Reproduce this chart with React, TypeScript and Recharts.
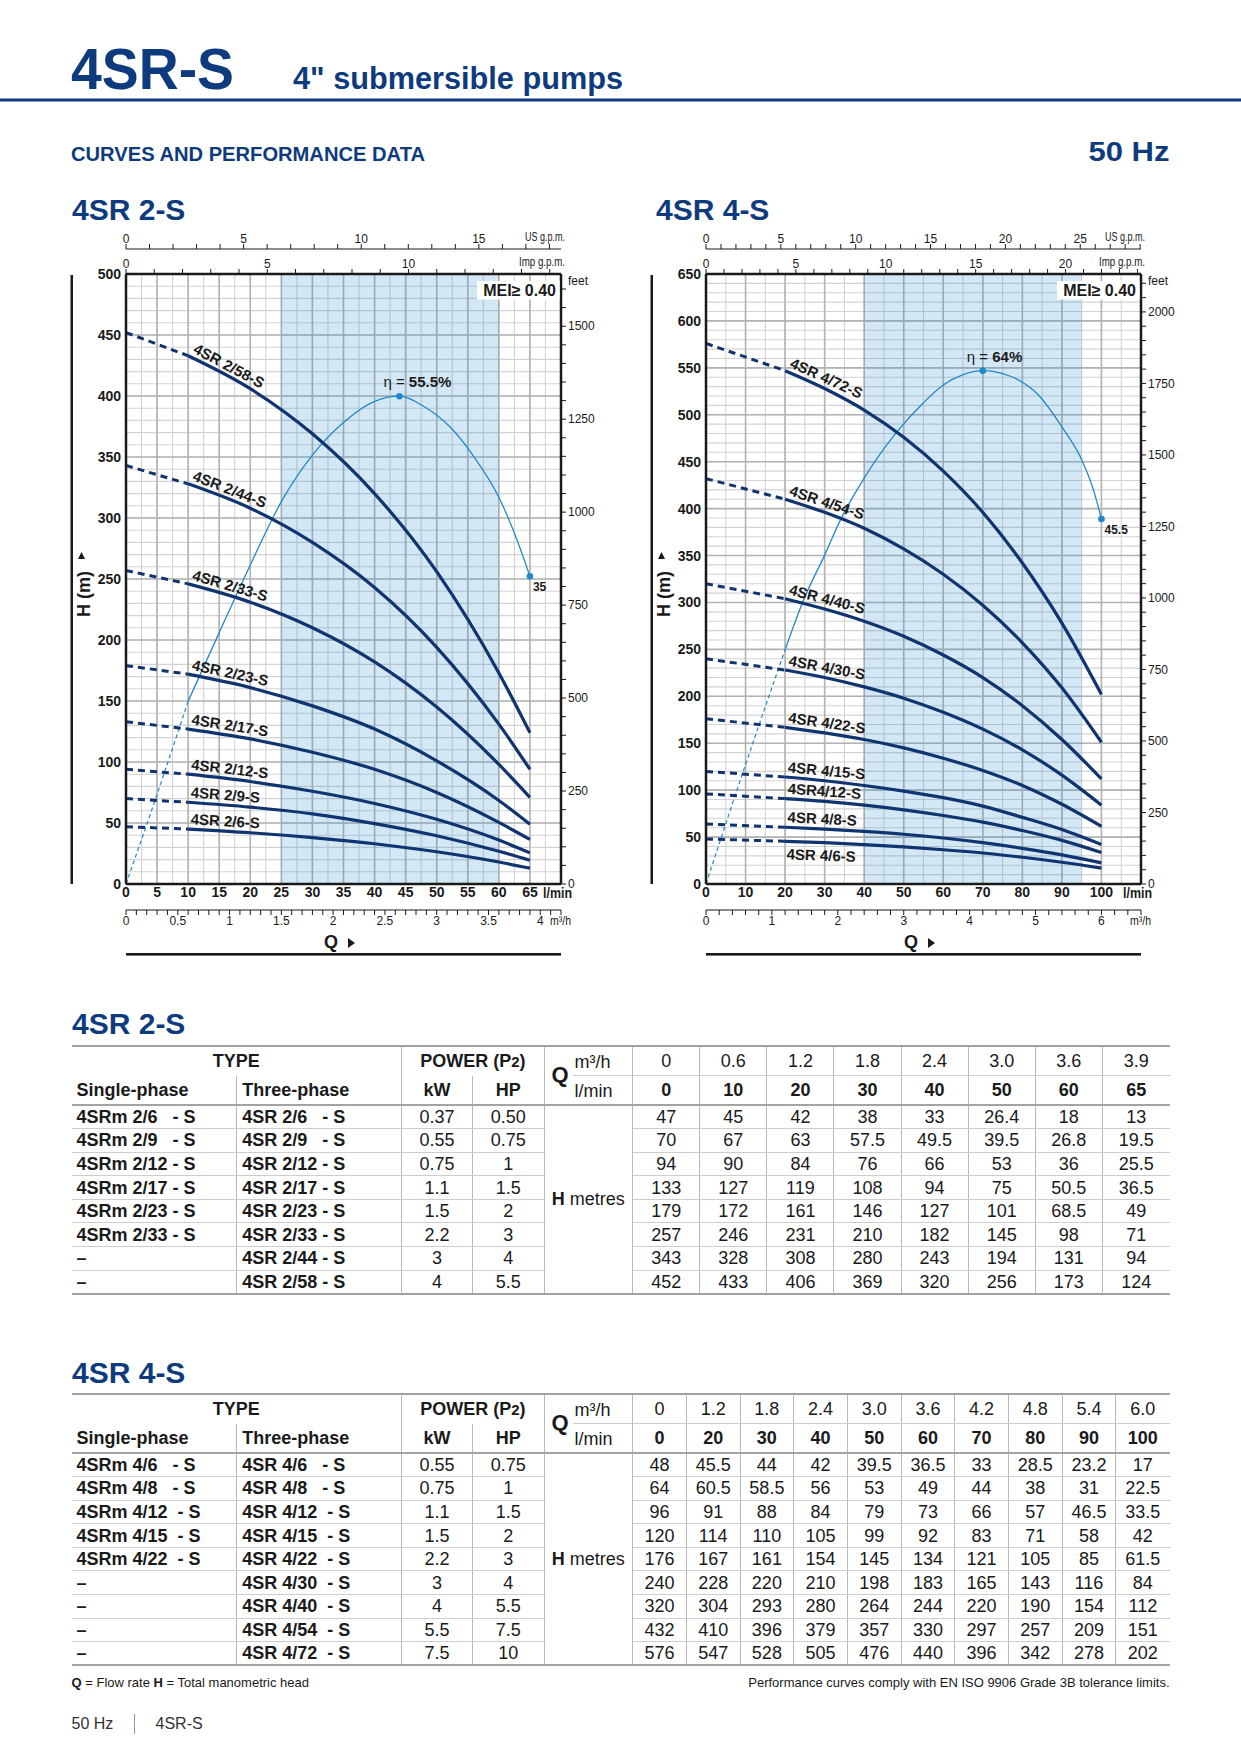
import React from 'react';
import {
  ComposedChart, Line, XAxis, YAxis, CartesianGrid, ReferenceArea, Label,
} from 'recharts';

const INK = '#1a1a1a';
const NAVY = '#0e3a7e';
const CURVE = '#0f3470';
const ETA = '#2189c9';
const FONT = '"Liberation Sans", Arial, Helvetica, sans-serif';

// ---- 4SR 2-S (values from the performance table)
const Q2 = [0, 10, 20, 30, 40, 50, 60, 65];
const Q2_M3H = ['0', '0.6', '1.2', '1.8', '2.4', '3.0', '3.6', '3.9'];
const CURVES2 = ['4SR 2/6-S', '4SR 2/9-S', '4SR 2/12-S', '4SR 2/17-S', '4SR 2/23-S', '4SR 2/33-S', '4SR 2/44-S', '4SR 2/58-S'];
const SINGLE2 = ['4SRm 2/6   - S', '4SRm 2/9   - S', '4SRm 2/12 - S', '4SRm 2/17 - S', '4SRm 2/23 - S', '4SRm 2/33 - S', '–', '–'];
const THREE2 = ['4SR 2/6   - S', '4SR 2/9   - S', '4SR 2/12 - S', '4SR 2/17 - S', '4SR 2/23 - S', '4SR 2/33 - S', '4SR 2/44 - S', '4SR 2/58 - S'];
const KW2 = ['0.37', '0.55', '0.75', '1.1', '1.5', '2.2', '3', '4'];
const HP2 = ['0.50', '0.75', '1', '1.5', '2', '3', '4', '5.5'];
const H2 = [
  [47, 45, 42, 38, 33, 26.4, 18, 13],
  [70, 67, 63, 57.5, 49.5, 39.5, 26.8, 19.5],
  [94, 90, 84, 76, 66, 53, 36, 25.5],
  [133, 127, 119, 108, 94, 75, 50.5, 36.5],
  [179, 172, 161, 146, 127, 101, 68.5, 49],
  [257, 246, 231, 210, 182, 145, 98, 71],
  [343, 328, 308, 280, 243, 194, 131, 94],
  [452, 433, 406, 369, 320, 256, 173, 124],
];
// efficiency curve (%)
const ETA2_Q = [0, 5, 10, 15, 20, 25, 30, 35, 40, 44, 48, 52, 56, 60, 63, 65];
const ETA2 = [0, 10.2, 20.8, 28.6, 36.3, 43.5, 48.8, 52.5, 54.9, 55.5, 54.3, 52.1, 48.6, 44, 39, 35];

// ---- 4SR 4-S
const Q4 = [0, 20, 30, 40, 50, 60, 70, 80, 90, 100];
const Q4_M3H = ['0', '1.2', '1.8', '2.4', '3.0', '3.6', '4.2', '4.8', '5.4', '6.0'];
const CURVES4 = ['4SR 4/6-S', '4SR 4/8-S', '4SR4/12-S', '4SR 4/15-S', '4SR 4/22-S', '4SR 4/30-S', '4SR 4/40-S', '4SR 4/54-S', '4SR 4/72-S'];
const SINGLE4 = ['4SRm 4/6   - S', '4SRm 4/8   - S', '4SRm 4/12  - S', '4SRm 4/15  - S', '4SRm 4/22  - S', '–', '–', '–', '–'];
const THREE4 = ['4SR 4/6   - S', '4SR 4/8   - S', '4SR 4/12  - S', '4SR 4/15  - S', '4SR 4/22  - S', '4SR 4/30  - S', '4SR 4/40  - S', '4SR 4/54  - S', '4SR 4/72  - S'];
const KW4 = ['0.55', '0.75', '1.1', '1.5', '2.2', '3', '4', '5.5', '7.5'];
const HP4 = ['0.75', '1', '1.5', '2', '3', '4', '5.5', '7.5', '10'];
const H4 = [
  [48, 45.5, 44, 42, 39.5, 36.5, 33, 28.5, 23.2, 17],
  [64, 60.5, 58.5, 56, 53, 49, 44, 38, 31, 22.5],
  [96, 91, 88, 84, 79, 73, 66, 57, 46.5, 33.5],
  [120, 114, 110, 105, 99, 92, 83, 71, 58, 42],
  [176, 167, 161, 154, 145, 134, 121, 105, 85, 61.5],
  [240, 228, 220, 210, 198, 183, 165, 143, 116, 84],
  [320, 304, 293, 280, 264, 244, 220, 190, 154, 112],
  [432, 410, 396, 379, 357, 330, 297, 257, 209, 151],
  [576, 547, 528, 505, 476, 440, 396, 342, 278, 202],
];
const ETA4_Q = [0, 10, 20, 25, 30, 34, 40, 48, 55, 60, 65, 70, 77, 84, 90, 95, 98, 100];
const ETA4 = [0, 14.9, 29.2, 35.8, 41, 45.4, 50.6, 56.2, 60, 62.2, 63.5, 64, 63.3, 61, 57, 52.9, 49.1, 45.5];

const CHART_A = {
  left: 60, q: Q2, heads: H2, names: CURVES2, below: [] as string[],
  qMax: 70, qGrid: 2.5, qLabel: 5, hMax: 500, m3Minor: 0.1, m3Label: 0.5,
  shade: [25, 60], etaQ: ETA2_Q, eta: ETA2, etaMax: 69.4,
};
const CHART_B = {
  left: 640, q: Q4, heads: H4, names: CURVES4, below: ['4SR 4/6-S'],
  qMax: 110, qGrid: 5, qLabel: 10, hMax: 650, m3Minor: 0.2, m3Label: 1,
  shade: [40, 95], etaQ: ETA4_Q, eta: ETA4, etaMax: 76.05,
};

const L_PER_USG = 3.785411784;
const L_PER_IMPG = 4.54609;
const M3H_PER_LMIN = 0.06;

const steps = (max: number, step: number) => {
  const out: number[] = [];
  for (let i = 0; i * step <= max + 1e-9; i++) out.push(Math.round(i * step * 1000) / 1000);
  return out;
};
const isMult = (v: number, s: number) => Math.abs(v / s - Math.round(v / s)) < 1e-6;
const scaleOf = (axis: any) => {
  const sc = axis && axis.scale;
  if (!sc) return null;
  return typeof sc === 'function' ? sc : (v: number) => sc.map(v);
};

// axis ids are named so that they stack in this order (closest to the plot first)
const XQ = 'x1_lmin';
const XM3 = 'x2_m3h';
const XIMP = 'x3_imp';
const XUS = 'x4_us';
const YH = 'y1_h';
const YETA = 'y2_eta';
const YFT = 'y3_ft';

function PumpChart({ cfg }: { cfg: typeof CHART_A }) {
  const { q, heads, names, below, qMax, qGrid, qLabel, hMax, m3Minor, m3Label, shade, etaQ, eta, etaMax } = cfg;
  const usMax = qMax / L_PER_USG;
  const impMax = qMax / L_PER_IMPG;
  const m3Max = qMax * M3H_PER_LMIN;
  const ftMax = hMax / 0.3048;
  const qEnd = q[q.length - 1];

  const vMinor = steps(qMax, qGrid);
  const vMajor = steps(qMax, qGrid * 2);
  const hMinor = steps(hMax, 10);
  const hMajor = steps(hMax, 50);

  const etaPts = etaQ.map((x, i) => ({ q: x, e: eta[i] }));
  const etaDash = etaPts.filter((p) => p.q <= q[1]);
  const etaSolid = etaPts.filter((p) => p.q >= q[1]);
  const peak = etaSolid.reduce((b, p, i) => (p.e > etaSolid[b].e ? i : b), 0);
  const lastEta = etaSolid.length - 1;

  const vGen = (vals: number[]) => ({ xAxis }: any) => {
    const f = scaleOf(xAxis);
    return f ? vals.map((v) => f(v)) : [];
  };
  const hGen = (vals: number[]) => ({ yAxis }: any) => {
    const f = scaleOf(yAxis);
    return f ? vals.map((v) => f(v)) : [];
  };

  const pumpLabel = (name: string) => (p: any) => {
    if (p.index !== 0) return <g key={`n${p.index}`} />;
    const pts = p.points;
    let ang = 0;
    if (pts && pts.length > 1) ang = (Math.atan2(pts[1].y - pts[0].y, pts[1].x - pts[0].x) * 180) / Math.PI;
    const under = below.includes(name);
    return (
      <g key="lbl" transform={`translate(${p.cx},${p.cy}) rotate(${ang})`}>
        <text x={2} y={under ? 18 : -5} fontSize={15} fontWeight={700} fill={INK} fontFamily={FONT}>{name}</text>
      </g>
    );
  };

  const etaDot = (p: any) => {
    const { cx, cy, index, payload } = p;
    if (index !== peak && index !== lastEta) return <g key={`e${index}`} />;
    if (index === peak) {
      return (
        <g key="peak">
          <circle cx={cx} cy={cy} r={3.3} fill={ETA} />
          <text x={cx - 16} y={cy - 9} fontSize={15} fill={INK} fontFamily={FONT}>
            η = <tspan fontWeight={700}>{payload.e}%</tspan>
          </text>
        </g>
      );
    }
    return (
      <g key="end">
        <circle cx={cx} cy={cy} r={3.3} fill={ETA} />
        <text x={cx + 3} y={cy + 15} fontSize={12} fontWeight={700} fill={INK} fontFamily={FONT}>{payload.e}</text>
      </g>
    );
  };

  const unitLabel = (text: string, dy: number, dx: number, bold = false, size = 12, len?: number) => (props: any) => {
    const vb = props.viewBox || {};
    return (
      <text x={vb.x + vb.width + dx} y={vb.y + dy} textAnchor="end" fontSize={size} fontWeight={bold ? 700 : 400}
        fill={INK} fontFamily={FONT} textLength={len} lengthAdjust={len ? 'spacingAndGlyphs' : undefined}>
        {text}
      </text>
    );
  };

  // the Q points in every unit, so that each unit axis has its own numbers
  const rows = q.map((x) => ({ q: x, m3: x * M3H_PER_LMIN, imp: x / L_PER_IMPG, us: x / L_PER_USG }));

  return (
    <div style={{ position: 'absolute', left: cfg.left, top: 225 }}>
      <ComposedChart width={545} height={710} data={rows} margin={{ top: 2, right: 4, bottom: 0, left: 26 }}>
        <CartesianGrid xAxisId={XQ} yAxisId={YH} stroke="#d3d3d3" strokeWidth={1.1}
          verticalCoordinatesGenerator={vGen(vMinor)} horizontalCoordinatesGenerator={hGen(hMinor)} />
        <CartesianGrid xAxisId={XQ} yAxisId={YH} stroke="#b3b3b3" strokeWidth={1.6}
          verticalCoordinatesGenerator={vGen(vMajor)} horizontalCoordinatesGenerator={hGen(hMajor)} />
        <ReferenceArea xAxisId={XQ} yAxisId={YH} x1={shade[0]} x2={shade[1]} y1={0} y2={hMax}
          fill="#2887cd" fillOpacity={0.2} stroke="none" />

        <XAxis xAxisId={XQ} dataKey="q" type="number" domain={[0, qMax]} allowDataOverflow
          ticks={steps(qEnd, qLabel)} interval={0} height={26} tickSize={0} tickMargin={3} tickLine={false}
          axisLine={{ stroke: INK, strokeWidth: 2.5 }} tick={{ fontSize: 14, fontWeight: 700, fill: INK }}>
          <Label content={unitLabel('l/min', 14, 11, true, 14, 29)} />
        </XAxis>
        <XAxis xAxisId={XM3} dataKey="m3" type="number" domain={[0, m3Max]} allowDataOverflow
          ticks={steps(m3Max, m3Minor)} interval={0} height={25} tickSize={5} tickMargin={1}
          tickFormatter={(v: number) => (isMult(v, m3Label) && v <= m3Max - 0.15 ? String(v) : '')}
          axisLine={{ stroke: INK, strokeWidth: 1.2 }} tickLine={{ stroke: INK }} tick={{ fontSize: 12, fill: INK }}>
          <Label content={unitLabel('m³/h', 15, 10, false, 12, 21)} />
        </XAxis>
        <XAxis xAxisId={XIMP} dataKey="imp" orientation="top" type="number" domain={[0, impMax]} allowDataOverflow
          ticks={steps(impMax, 1)} interval={0} height={25} tickSize={5} tickMargin={1}
          tickFormatter={(v: number) => (isMult(v, 5) && v <= impMax - 3 ? String(v) : '')}
          axisLine={{ stroke: INK, strokeWidth: 2.5 }} tickLine={{ stroke: INK }} tick={{ fontSize: 12, fill: INK }}>
          <Label content={unitLabel('Imp g.p.m.', 17, 4, false, 12, 46)} />
        </XAxis>
        <XAxis xAxisId={XUS} dataKey="us" orientation="top" type="number" domain={[0, usMax]} allowDataOverflow
          ticks={steps(usMax, 1)} interval={0} height={22} tickSize={5} tickMargin={1}
          tickFormatter={(v: number) => (isMult(v, 5) && v <= usMax - 3 ? String(v) : '')}
          axisLine={{ stroke: INK, strokeWidth: 1.2 }} tickLine={{ stroke: INK }} tick={{ fontSize: 12, fill: INK }}>
          <Label content={unitLabel('US g.p.m.', 14, 4, false, 12, 40)} />
        </XAxis>

        <YAxis yAxisId={YH} type="number" domain={[0, hMax]} allowDataOverflow ticks={steps(hMax, 50)} interval={0}
          width={40} tickSize={0} tickMargin={5} tickLine={false}
          axisLine={{ stroke: INK, strokeWidth: 2.5 }} tick={{ fontSize: 14, fontWeight: 700, fill: INK }} />
        <YAxis yAxisId={YETA} hide width={0} type="number" domain={[0, etaMax]} allowDataOverflow />
        <YAxis yAxisId={YFT} orientation="right" type="number" domain={[0, ftMax]} allowDataOverflow
          ticks={steps(ftMax, 50)} interval={0} width={40} tickSize={5} tickMargin={2}
          tickFormatter={(v: number) => (isMult(v, 250) ? String(v) : '')}
          axisLine={{ stroke: INK, strokeWidth: 2.5 }} tickLine={{ stroke: INK }} tick={{ fontSize: 12, fill: INK }}>
          <Label content={(props: any) => {
            const vb = props.viewBox || {};
            return <text x={vb.x + 7} y={vb.y + 11} fontSize={12} fill={INK} fontFamily={FONT}>feet</text>;
          }} />
        </YAxis>

        <Line data={etaDash} dataKey="e" xAxisId={XQ} yAxisId={YETA} type="monotone" stroke={ETA}
          strokeWidth={1.2} strokeDasharray="4 3" dot={false} activeDot={false} isAnimationActive={false} />
        <Line data={etaSolid} dataKey="e" xAxisId={XQ} yAxisId={YETA} type="monotone" stroke={ETA}
          strokeWidth={1.3} dot={etaDot} activeDot={false} isAnimationActive={false} />

        {heads.map((hs, k) => (
          <Line key={`d${k}`} data={q.slice(0, 2).map((x, i) => ({ q: x, h: hs[i] }))} dataKey="h"
            xAxisId={XQ} yAxisId={YH} type="linear" stroke={CURVE} strokeWidth={3} strokeDasharray="7 5"
            dot={false} activeDot={false} isAnimationActive={false} />
        ))}
        {heads.map((hs, k) => (
          <Line key={`s${k}`} data={q.slice(1).map((x, i) => ({ q: x, h: hs[i + 1] }))} dataKey="h"
            xAxisId={XQ} yAxisId={YH} type="monotone" stroke={CURVE} strokeWidth={3.2}
            dot={pumpLabel(names[k])} activeDot={false} isAnimationActive={false} />
        ))}
      </ComposedChart>
    </div>
  );
}

const THICK = '2.5px solid #a3a3a3';
const VLINE = '1.5px solid #b8b8b8';
const RLINE = '1.5px solid #cdcdcd';

function PerfTable({ top, qM3h, qLmin, single, three, kw, hp, heads }: any) {
  const nCol = qM3h.length;
  const dataW = 536.8 / nCol;
  const n = heads.length;
  const cell = (extra: any = {}) => ({
    padding: 0, fontSize: 18, lineHeight: '18px', whiteSpace: 'pre', overflow: 'hidden', ...extra,
  });
  const vr = (i: number) => (i < nCol - 1 ? VLINE : undefined);
  return (
    <table style={{
      position: 'absolute', left: 71.5, top, width: 1098, borderCollapse: 'collapse', tableLayout: 'fixed',
      fontFamily: FONT, color: INK, borderTop: THICK, borderBottom: THICK,
    }}>
      <colgroup>
        <col style={{ width: 165.3 }} />
        <col style={{ width: 164.9 }} />
        <col style={{ width: 70.8 }} />
        <col style={{ width: 71.5 }} />
        <col style={{ width: 88.7 }} />
        {qM3h.map((_: any, i: number) => <col key={i} style={{ width: dataW }} />)}
      </colgroup>
      <tbody>
        <tr style={{ height: 29 }}>
          <td colSpan={2} style={cell({ textAlign: 'center', fontWeight: 700, borderRight: VLINE })}>TYPE</td>
          <td colSpan={2} style={cell({ textAlign: 'center', fontWeight: 700, borderRight: VLINE })}>
            POWER (P<span style={{ fontSize: 15 }}>2</span>)
          </td>
          <td rowSpan={2} style={cell({ borderRight: VLINE, borderBottom: THICK })}>
            <div style={{ position: 'relative', height: 57 }}>
              <div style={{ position: 'absolute', left: 7, top: 17, fontSize: 22, lineHeight: '22px', fontWeight: 700 }}>Q</div>
              <div style={{ position: 'absolute', left: 28, right: 0, top: 28, borderTop: RLINE }} />
              <div style={{ position: 'absolute', left: 30, top: 6 }}>m³/h</div>
              <div style={{ position: 'absolute', left: 30, top: 35 }}>l/min</div>
            </div>
          </td>
          {qM3h.map((v: string, i: number) => (
            <td key={i} style={cell({ textAlign: 'center', borderRight: vr(i), borderBottom: RLINE })}>{v}</td>
          ))}
        </tr>
        <tr style={{ height: 28.7 }}>
          <td style={cell({ paddingLeft: 5, fontWeight: 700, borderRight: VLINE, borderBottom: THICK })}>Single-phase</td>
          <td style={cell({ paddingLeft: 5, fontWeight: 700, borderRight: VLINE, borderBottom: THICK })}>Three-phase</td>
          <td style={cell({ textAlign: 'center', fontWeight: 700, borderRight: VLINE, borderBottom: THICK })}>kW</td>
          <td style={cell({ textAlign: 'center', fontWeight: 700, borderRight: VLINE, borderBottom: THICK })}>HP</td>
          {qLmin.map((v: number, i: number) => (
            <td key={i} style={cell({ textAlign: 'center', fontWeight: 700, borderRight: vr(i), borderBottom: THICK })}>{v}</td>
          ))}
        </tr>
        {heads.map((row: number[], r: number) => {
          const bb = r < n - 1 ? RLINE : undefined;
          return (
            <tr key={r} style={{ height: 23.6 }}>
              <td style={cell({ paddingLeft: 5, fontWeight: 700, borderRight: VLINE, borderBottom: bb })}>{single[r]}</td>
              <td style={cell({ paddingLeft: 5, fontWeight: 700, borderRight: VLINE, borderBottom: bb })}>{three[r]}</td>
              <td style={cell({ textAlign: 'center', borderRight: VLINE, borderBottom: bb })}>{kw[r]}</td>
              <td style={cell({ textAlign: 'center', borderRight: VLINE, borderBottom: bb })}>{hp[r]}</td>
              {r === 0 && (
                <td rowSpan={n} style={cell({ textAlign: 'center', borderRight: VLINE })}>
                  <b>H</b> metres
                </td>
              )}
              {row.map((v, i) => (
                <td key={i} style={cell({ textAlign: 'center', borderRight: vr(i), borderBottom: bb })}>{v}</td>
              ))}
            </tr>
          );
        })}
      </tbody>
    </table>
  );
}

function ChartDecor({ plotLeft }: { plotLeft: number }) {
  const plotRight = plotLeft + 435;
  return (
    <g>
      <rect x={plotLeft - 55.5} y={275} width={2.5} height={609} fill={INK} />
      <polygon points={`${plotLeft - 44.5},552 ${plotLeft - 41},559 ${plotLeft - 48},559`} fill={INK} />
      <text transform={`translate(${plotLeft - 36},617) rotate(-90)`} fontSize={18} fontWeight={700} fill={INK}>H (m)</text>
      <text x={plotLeft + 198} y={948} fontSize={18} fontWeight={700} fill={INK}>Q</text>
      <polygon points={`${plotLeft + 222},938 ${plotLeft + 229},943 ${plotLeft + 222},948`} fill={INK} />
      <rect x={plotLeft} y={953} width={435} height={2.6} fill={INK} />
      <rect x={plotRight - 84} y={281} width={82.5} height={18.5} fill="#fff" />
      <text x={plotRight - 5} y={296} textAnchor="end" fontSize={16} fontWeight={700} fill={INK}>MEI≥ 0.40</text>
    </g>
  );
}

export default function App() {
  return (
    <div style={{ position: 'absolute', left: 0, top: 0, width: 1241, height: 1754, background: '#fff', fontFamily: FONT, color: INK }}>
      <PumpChart cfg={CHART_A} />
      <PumpChart cfg={CHART_B} />
      <PerfTable top={1045} qM3h={Q2_M3H} qLmin={Q2} single={SINGLE2} three={THREE2} kw={KW2} hp={HP2} heads={H2} />
      <PerfTable top={1393} qM3h={Q4_M3H} qLmin={Q4} single={SINGLE4} three={THREE4} kw={KW4} hp={HP4} heads={H4} />
      <svg width={1241} height={1754} style={{ position: 'absolute', left: 0, top: 0, pointerEvents: 'none', fontFamily: FONT }}>
        <text x={71} y={89} fontSize={58} fontWeight={700} fill={NAVY} textLength={163} lengthAdjust="spacingAndGlyphs">4SR-S</text>
        <text x={293} y={89} fontSize={31} fontWeight={700} fill={NAVY} textLength={330} lengthAdjust="spacingAndGlyphs">4" submersible pumps</text>
        <rect x={0} y={98.5} width={1241} height={3} fill={NAVY} />
        <text x={71} y={160.5} fontSize={19.5} fontWeight={700} fill={NAVY} textLength={354} lengthAdjust="spacingAndGlyphs">CURVES AND PERFORMANCE DATA</text>
        <text x={1088.5} y={160.5} fontSize={27} fontWeight={700} fill={NAVY} textLength={81} lengthAdjust="spacingAndGlyphs">50 Hz</text>
        <text x={72} y={220} fontSize={30} fontWeight={700} fill={NAVY}>4SR 2-S</text>
        <text x={656} y={220} fontSize={30} fontWeight={700} fill={NAVY}>4SR 4-S</text>
        <ChartDecor plotLeft={126} />
        <ChartDecor plotLeft={706} />
        <text x={72} y={1034} fontSize={30} fontWeight={700} fill={NAVY}>4SR 2-S</text>
        <text x={72} y={1383} fontSize={30} fontWeight={700} fill={NAVY}>4SR 4-S</text>
        <text x={71.5} y={1687} fontSize={13} fill={INK}>
          <tspan fontWeight={700}>Q</tspan> = Flow rate   <tspan fontWeight={700}>H</tspan> = Total manometric head
        </text>
        <text x={1169.5} y={1687} fontSize={13} fill={INK} textAnchor="end">
          Performance curves comply with EN ISO 9906 Grade 3B tolerance limits.
        </text>
        <text x={71.5} y={1729} fontSize={16} fill="#333">50 Hz</text>
        <rect x={134} y={1714} width={1} height={20} fill="#999" />
        <text x={155.5} y={1729} fontSize={16} fill="#333">4SR-S</text>
      </svg>
    </div>
  );
}
